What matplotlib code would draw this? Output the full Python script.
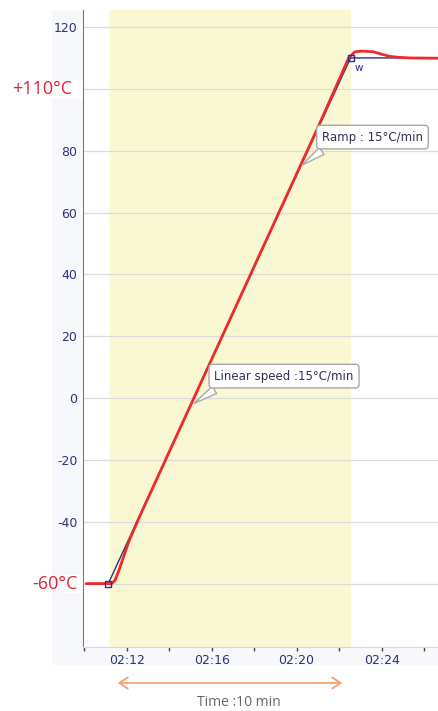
import matplotlib
matplotlib.use("Agg")
import matplotlib.pyplot as plt
from matplotlib.patches import Rectangle, FancyArrowPatch
from matplotlib.ticker import FuncFormatter, MultipleLocator

# ---- data (time in minutes after 02:00, temperature in °C) ----
red_t = [10.1, 11.2, 11.3, 11.45, 11.6, 11.8, 12.1, 12.6, 13.5, 15.0, 17.0, 19.0, 21.0, 22.0,
         22.45, 22.75, 23.1, 23.6, 24.0, 24.4, 24.8, 25.3, 26.7]
red_T = [-60, -60, -60, -59, -56.5, -52.5, -46.5, -38.5, -25, -2.5, 27.5, 57.5, 87.5, 103,
         110, 112, 112.2, 112, 111.2, 110.5, 110.2, 110, 109.9]
set_t = [10.1, 11.14, 22.54, 25.17]
set_T = [-60, -60, 110, 110]
marker_t = [11.14, 22.54]
marker_T = [-60, 110]
ramp_start, ramp_end = 11.2, 22.5
yticks = [-60, -40, -20, 0, 20, 40, 60, 80, 100, 120]
hidden_yticklabels = [-60, 100]
xticks_major = [12, 16, 20, 24]
xticks_minor = [10, 12, 14, 16, 18, 20, 22, 24, 26]

W, H = 439, 711
fig = plt.figure(figsize=(W / 100, H / 100), dpi=100)
fig.patch.set_facecolor("white")

def fx(px):
    return px / W

def fy(py):
    return 1 - py / H

panel = "#f6f8fc"
fig.patches.append(Rectangle((fx(52), fy(665)), fx(83 - 52), fy(10) - fy(665),
                             transform=fig.transFigure, fc=panel, ec="none", zorder=-2))
fig.patches.append(Rectangle((fx(52), fy(665)), fx(W - 52), fy(647) - fy(665),
                             transform=fig.transFigure, fc=panel, ec="none", zorder=-2))
# white label backgrounds over the left panel
fig.patches.append(Rectangle((fx(0), fy(98)), fx(83), fy(80) - fy(98),
                             transform=fig.transFigure, fc="white", ec="none", zorder=-1))
fig.patches.append(Rectangle((fx(62), fy(593)), fx(21), fy(575) - fy(593),
                             transform=fig.transFigure, fc="white", ec="none", zorder=-1))

ax = fig.add_axes([fx(83), fy(647), fx(W - 83), fy(10) - fy(647)])
ax.set_facecolor("white")
ax.set_xlim(9.95, 26.7)
ax.set_ylim(-80.5, 125.5)

ax.axvspan(ramp_start, ramp_end, color="#faf8d2", zorder=0)

ax.set_yticks(yticks)
ax.yaxis.set_major_formatter(FuncFormatter(
    lambda v, p: "" if int(round(v)) in hidden_yticklabels else "%d" % int(round(v))))
ax.yaxis.grid(True, color="#dcdcdc", lw=0.9, zorder=1)
ax.xaxis.grid(False)
ax.tick_params(axis="y", length=0, pad=4, labelsize=9, labelcolor="#2f3275")
ax.set_xticks(xticks_major)
ax.set_xticks(xticks_minor, minor=True)
ax.xaxis.set_major_formatter(FuncFormatter(lambda v, p: "02:%02d" % int(round(v))))
ax.tick_params(axis="x", which="both", direction="out", length=3, width=1,
               color="#444444", labelsize=9, labelcolor="#2f3275", pad=2)

for s in ["top", "right"]:
    ax.spines[s].set_visible(False)
ax.spines["left"].set_color("#777777")
ax.spines["bottom"].set_color("#d4d8e4")

ax.plot(set_t, set_T, color="#2b2f86", lw=1.0, zorder=3)
ax.plot(red_t, red_T, color="#ee2a2a", lw=2.0, zorder=4, solid_capstyle="round")
ax.plot(marker_t, marker_T, ls="none", marker="s", ms=4, mfc="none", mec="#2b2f86",
        mew=1.0, zorder=5)
ax.text(22.75, 108.2, "w", fontsize=7.5, color="#2b2f86", va="top", ha="left", zorder=6)

bbox = dict(boxstyle="round,pad=0.45,rounding_size=0.3", fc="white", ec="#a8a8a8", lw=1.0)
arrow = dict(arrowstyle="wedge,tail_width=0.7,shrink_factor=0.5", fc="white", ec="#a8a8a8",
             lw=1.0, relpos=(0.1, 0.0))
ax.annotate("Ramp : 15°C/min", xy=(20.14, 74.8), xytext=(23.57, 84.4), fontsize=8.5,
            color="#303050", ha="center", va="center", bbox=bbox, arrowprops=arrow, zorder=7)
ax.annotate("Linear speed :15°C/min", xy=(15.07, -2.2), xytext=(19.41, 7.1), fontsize=8.5,
            color="#303050", ha="center", va="center", bbox=bbox,
            arrowprops=dict(arrow, relpos=(0.08, 0.0)), zorder=7)

fig.text(fx(12), fy(89), "+110°C", fontsize=13, color="#d8283c", ha="left", va="center",
         family=["Open Sans", "DejaVu Sans"])
fig.text(fx(32), fy(584), "-60°C", fontsize=13, color="#d8283c", ha="left", va="center",
         family=["Open Sans", "DejaVu Sans"])

fig.add_artist(FancyArrowPatch(
    (fx(115), fy(683)), (fx(345), fy(683)), transform=fig.transFigure,
    arrowstyle="<->,head_length=6,head_width=4", color="#f5a26c", lw=1.3))
fig.text(fx(239), fy(703), "Time :10 min", fontsize=10, color="#666666", ha="center",
         va="center", family=["Open Sans", "DejaVu Sans"])

fig.savefig("out.png", dpi=100)
